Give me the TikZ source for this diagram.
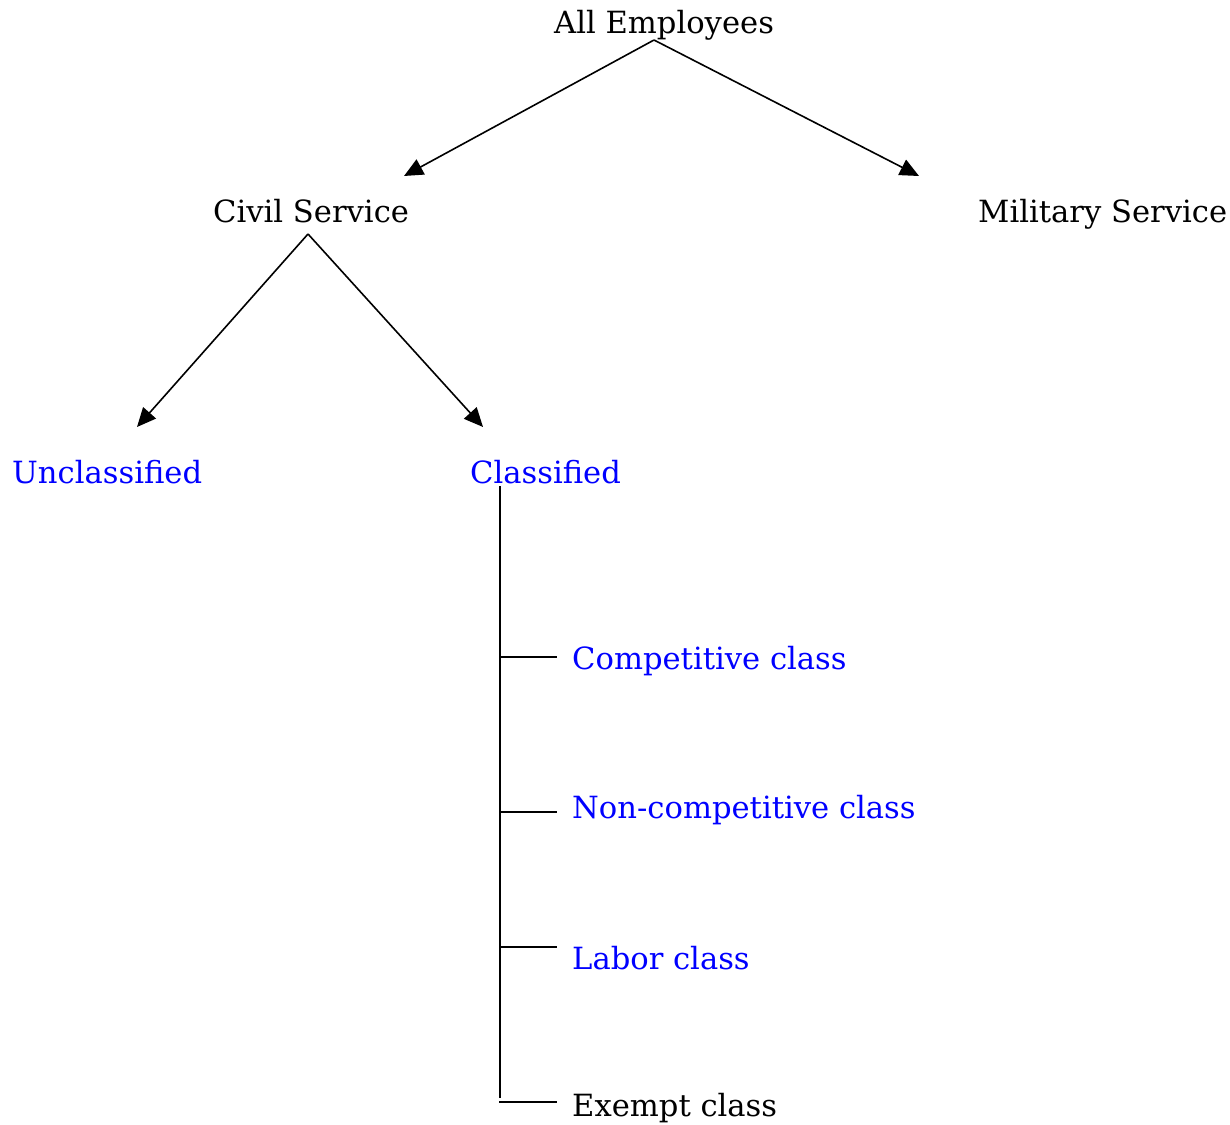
\documentclass[tikz,border=0pt]{standalone}
\usepackage{fontspec}
\setmainfont{DejaVu Serif}
\definecolor{classblue}{RGB}{0,0,255}
\usetikzlibrary{arrows.meta}

\begin{document}
\begin{tikzpicture}[x=1pt,y=-1pt,
    lbl/.style={anchor=base west, inner sep=0pt, font=\fontsize{30.6}{36}\selectfont},
    link/.style={lbl, text=classblue},
    arr/.style={-{Triangle[length=19pt,width=17pt]}, line width=1.6pt},
    branch/.style={line width=1.6pt}]
  \useasboundingbox (0,0) rectangle (1230,1124);

  % top levels
  \node[lbl] (all) at (554,34) {All Employees};
  \node[lbl] (civil) at (213,222) {Civil Service};
  \node[lbl] (military) at (978,222) {Military Service};
  \node[link] (unclass) at (12,483) {Unclassified};
  \node[link] (class) at (470,483) {Classified};

  \coordinate (allfork) at (654,40);
  \coordinate (civiltip) at (404,176);
  \coordinate (miltip) at (919,176);
  \coordinate (civilfork) at (308,234);
  \coordinate (unclasstip) at (137,427);
  \coordinate (classtip) at (483,427);

  \draw[arr] (allfork) -- (civiltip);
  \draw[arr] (allfork) -- (miltip);
  \draw[arr] (civilfork) -- (unclasstip);
  \draw[arr] (civilfork) -- (classtip);

  % classified sub-classes
  \node[link] (comp) at (572,669) {Competitive class};
  \node[link] (noncomp) at (572,818) {Non-competitive class};
  \node[link] (labor) at (572,969) {Labor class};
  \node[lbl] (exempt) at (572,1116) {Exempt class};

  \coordinate (spinetop) at (500,486);
  \coordinate (spinebot) at (500,1098);
  \draw[branch] (spinetop) -- (spinebot);
  \foreach \y in {657, 812, 947, 1102}
    \draw[branch] (499.2,\y) -- (557,\y);
\end{tikzpicture}
\end{document}
